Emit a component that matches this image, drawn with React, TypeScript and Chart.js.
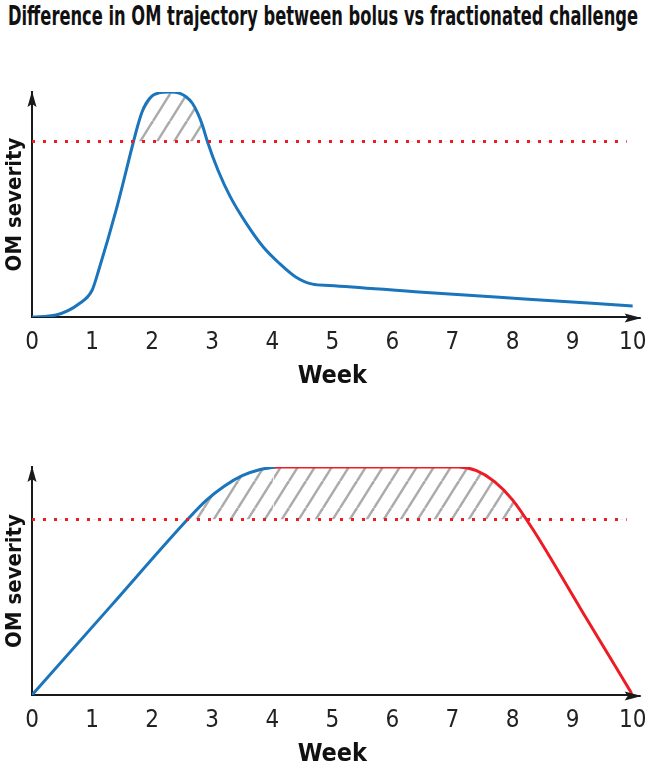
import React, { useEffect, useRef, useState } from "react";
import { Chart, registerables } from "chart.js";

Chart.register(...registerables);

// ---------- data ----------
const titleText = "Difference in OM trajectory between bolus vs fractionated challenge";
const xAxisTitle = "Week";
const yAxisTitle = "OM severity";
const weekMin = 0;
const weekMax = 10;
const severityMax = 100;

// Bolus challenge (top panel)
const bolusWeeks = [0, 0.4, 0.79, 1.0, 1.11, 1.4, 1.69, 1.76, 1.83, 1.9, 2.0, 2.1, 2.3, 2.45, 2.57, 2.67, 2.76, 2.84, 2.92, 3.1, 3.3, 3.57, 3.85, 4.12, 4.39, 4.67, 4.95, 6.5, 8.2, 10];
const bolusSeverity = [0, 0.9, 6.0, 11.9, 20.8, 47.5, 78, 85, 91, 95, 98.3, 99.5, 100, 99.5, 97.8, 95, 90.5, 85, 78, 65, 53.5, 41.5, 31.1, 23.8, 17.8, 14.6, 14.05, 11.0, 8.0, 4.9];
const bolusThreshold = 78;

// Fractionated challenge (bottom panel): blue rising part, red plateau/fall
const fracRiseWeeks = [0, 1.3, 2.6, 2.9, 3.2, 3.5, 3.8, 4.02];
const fracRiseSeverity = [0, 38.65, 77.3, 85.4, 91.6, 96.2, 98.9, 99.9];
const fracFallWeeks = [4.02, 4.12, 5.6, 7.1, 7.4, 7.7, 8.0, 8.33, 9.15, 10];
const fracFallSeverity = [99.9, 100, 100, 100, 98.4, 93.6, 85.6, 73, 37.1, 0];
const fracThreshold = 77;

const thresholdWeeks = [0, 9.9];

// ---------- styles ----------
const BLUE = "#1b75bc";
const RED = "#ed1c24";
const AXIS = "#1a1a1a";

type FontPick = {
  family: string;
  tickSize: number;
  tickWeight: string;
  xTitleSize: number;
  yTitleSize: number;
  boldWeight: string;
  titleFamily: string;
  titleStretch: string;
  titleSize: number;
};

function pickFonts(): FontPick {
  const fallback: FontPick = {
    family: "'DejaVu Sans Condensed', 'DejaVu Sans', sans-serif",
    tickSize: 24,
    tickWeight: "normal",
    xTitleSize: 25,
    yTitleSize: 22,
    boldWeight: "bold",
    titleFamily: "'DejaVu Sans Condensed', 'DejaVu Sans', sans-serif",
    titleStretch: "normal",
    titleSize: 27,
  };
  try {
    const ctx = document.createElement("canvas").getContext("2d");
    if (!ctx) return fallback;
    ctx.font = "300 24px 'Noto Sans'";
    const w1 = ctx.measureText("0123456789").width;
    ctx.font = "10px serif";
    ctx.font = "300 extra-condensed 24px 'Noto Sans'";
    if (ctx.font === "10px serif") return fallback;
    const w2 = ctx.measureText("0123456789").width;
    if (w2 < w1 * 0.85) {
      return {
        family: "'Noto Sans', sans-serif",
        tickSize: 27,
        tickWeight: "300 extra-condensed",
        xTitleSize: 29,
        yTitleSize: 26,
        boldWeight: "700 extra-condensed",
        titleFamily: "'Noto Sans', sans-serif",
        titleStretch: "extra-condensed",
        titleSize: 27,
      };
    }
  } catch (e) {
    // ignore
  }
  return fallback;
}

const pts = (xs: number[], ys: number[]) => xs.map((x, i) => ({ x, y: ys[i] }));

function makeHatch(): CanvasPattern | string {
  const c = document.createElement("canvas");
  const w = 17;
  const h = 27;
  c.width = w;
  c.height = h;
  const ctx = c.getContext("2d");
  if (!ctx) return "rgba(170,170,170,0.5)";
  ctx.strokeStyle = "#ababab";
  ctx.lineWidth = 2.5;
  for (const k of [-1, 0, 1]) {
    ctx.beginPath();
    ctx.moveTo(k * w, h);
    ctx.lineTo(k * w + w, 0);
    ctx.stroke();
  }
  return ctx.createPattern(c, "repeat") || "rgba(170,170,170,0.5)";
}

const axisArrows = {
  id: "axisArrows",
  afterDraw(chart: any) {
    const { ctx, chartArea } = chart;
    const { left, right, top, bottom } = chartArea;
    ctx.save();
    ctx.fillStyle = AXIS;
    ctx.strokeStyle = AXIS;
    ctx.lineWidth = 2;
    ctx.beginPath();
    ctx.moveTo(left, top - 1);
    ctx.lineTo(left - 4.5, top + 15);
    ctx.lineTo(left, top + 12);
    ctx.lineTo(left + 4.5, top + 15);
    ctx.closePath();
    ctx.fill();
    ctx.beginPath();
    ctx.moveTo(right - 1, bottom + 1);
    ctx.lineTo(right + 8, bottom + 1);
    ctx.stroke();
    ctx.beginPath();
    ctx.moveTo(right + 9, bottom + 1);
    ctx.lineTo(right - 8, bottom - 3.5);
    ctx.lineTo(right - 5, bottom + 1);
    ctx.lineTo(right - 8, bottom + 5.5);
    ctx.closePath();
    ctx.fill();
    ctx.restore();
  },
};

function buildConfig(datasets: any[], padTop: number, xScaleHeight: number, f: FontPick) {
  const xTitleLH = f.xTitleSize * 1.2;
  return {
    type: "line" as const,
    data: { datasets },
    options: {
      animation: false as const,
      responsive: false,
      devicePixelRatio: 1,
      layout: { padding: { top: padTop, right: 16, left: 0, bottom: 0 } },
      plugins: { legend: { display: false }, tooltip: { enabled: false }, title: { display: false } },
      elements: { point: { radius: 0, hoverRadius: 0 } },
      scales: {
        x: {
          type: "linear" as const,
          min: weekMin,
          max: weekMax,
          grid: { display: false, drawTicks: false },
          border: { display: true, color: AXIS, width: 2 },
          ticks: {
            stepSize: 1,
            padding: 26 - (f.tickSize * 1.2) / 2,
            color: "#222",
            font: { family: f.family, size: f.tickSize, weight: f.tickWeight },
          },
          title: {
            display: true,
            text: xAxisTitle,
            color: "#111",
            font: { family: f.family, size: f.xTitleSize, weight: f.boldWeight },
            padding: { top: 0, bottom: Math.max(0, xScaleHeight - 59.5 - xTitleLH / 2) },
          },
          afterFit: (scale: any) => {
            scale.height = xScaleHeight;
          },
        },
        y: {
          type: "linear" as const,
          min: 0,
          max: severityMax,
          grid: { display: false, drawTicks: false },
          border: { display: true, color: AXIS, width: 2 },
          ticks: { display: false },
          title: {
            display: true,
            text: yAxisTitle,
            color: "#111",
            font: { family: f.family, size: f.yTitleSize, weight: f.boldWeight },
            padding: { top: Math.max(0, 15 - (f.yTitleSize * 1.2) / 2), bottom: 0 },
          },
          afterFit: (scale: any) => {
            scale.width = 32;
          },
        },
      },
    },
    plugins: [axisArrows],
  };
}

function Panel({ which, top, height, padTop, xScaleHeight, fonts }: { which: "bolus" | "frac"; top: number; height: number; padTop: number; xScaleHeight: number; fonts: FontPick }) {
  const ref = useRef<HTMLCanvasElement | null>(null);
  useEffect(() => {
    if (!ref.current) return;
    const hatch = makeHatch();
    const lineBase = {
      borderWidth: 3,
      pointRadius: 0,
      cubicInterpolationMode: "monotone" as const,
      borderCapStyle: "round" as const,
    };
    const thresholdBase = {
      borderColor: RED,
      borderWidth: 3,
      borderDash: [3, 8],
      pointRadius: 0,
      fill: false,
    };
    let datasets: any[];
    if (which === "bolus") {
      datasets = [
        { ...thresholdBase, data: pts(thresholdWeeks, thresholdWeeks.map(() => bolusThreshold)) },
        {
          ...lineBase,
          data: pts(bolusWeeks, bolusSeverity),
          borderColor: BLUE,
          fill: { target: { value: bolusThreshold }, above: hatch, below: "rgba(0,0,0,0)" },
        },
      ];
    } else {
      datasets = [
        { ...thresholdBase, data: pts(thresholdWeeks, thresholdWeeks.map(() => fracThreshold)) },
        {
          ...lineBase,
          data: pts(fracRiseWeeks, fracRiseSeverity),
          borderColor: BLUE,
          fill: { target: { value: fracThreshold }, above: hatch, below: "rgba(0,0,0,0)" },
        },
        {
          ...lineBase,
          data: pts(fracFallWeeks, fracFallSeverity),
          borderColor: RED,
          fill: { target: { value: fracThreshold }, above: hatch, below: "rgba(0,0,0,0)" },
        },
      ];
    }
    const chart = new Chart(ref.current, buildConfig(datasets, padTop, xScaleHeight, fonts) as any);
    return () => chart.destroy();
  }, [which, padTop, xScaleHeight, fonts]);
  return (
    <canvas
      ref={ref}
      width={658}
      height={height}
      style={{ position: "absolute", left: 0, top, width: 658, height }}
    />
  );
}

export default function App() {
  const [fonts] = useState<FontPick>(() => pickFonts());
  const titleRef = useRef<HTMLSpanElement | null>(null);
  useEffect(() => {
    const el = titleRef.current;
    if (!el) return;
    el.style.transform = "none";
    const w = el.getBoundingClientRect().width;
    if (w > 0) el.style.transform = `scaleX(${630 / w})`;
  }, [fonts]);
  return (
    <div
      style={{
        position: "fixed",
        left: 0,
        top: 0,
        width: 658,
        height: 763,
        overflow: "hidden",
        background: "#fff",
      }}
    >
      <span
        ref={titleRef}
        style={{
          position: "absolute",
          left: 8,
          top: 0,
          fontFamily: fonts.titleFamily,
          fontStretch: fonts.titleStretch,
          fontWeight: 700,
          fontSize: fonts.titleSize,
          lineHeight: `${fonts.titleSize + 4}px`,
          whiteSpace: "nowrap",
          color: "#111",
          transformOrigin: "left top",
          display: "inline-block",
        }}
      >
        {titleText}
      </span>
      <Panel which="bolus" top={40} height={360} padTop={52} xScaleHeight={83} fonts={fonts} />
      <Panel which="frac" top={400} height={380} padTop={67} xScaleHeight={85} fonts={fonts} />
    </div>
  );
}
